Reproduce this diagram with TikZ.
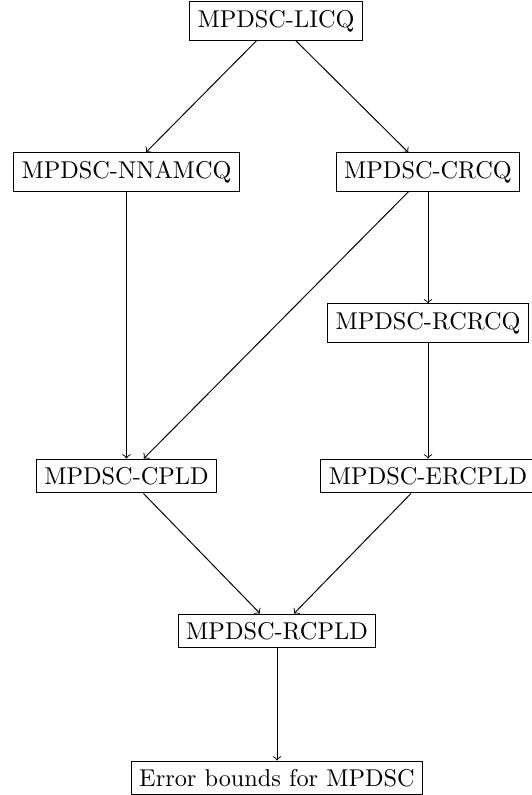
\documentclass[tikz,border=0pt]{standalone}
\begin{document}
\begin{tikzpicture}[x=0.4115pt,y=-0.4115pt,
  box/.style={draw,rectangle,inner sep=3.333pt,font=\normalsize},
  arr/.style={->}]
\useasboundingbox (0,0) rectangle (531,795);
\node[box] (licq) at (276,21) {MPDSC-LICQ};
\node[box] (nnamcq) at (126.5,172) {MPDSC-NNAMCQ};
\node[box] (crcq) at (428,172) {MPDSC-CRCQ};
\node[box] (rcrcq) at (428,323) {MPDSC-RCRCQ};
\node[box] (cpld) at (126.5,476) {MPDSC-CPLD};
\node[box] (ercpld) at (428,476) {MPDSC-ERCPLD};
\node[box] (rcpld) at (277,631) {MPDSC-RCPLD};
\node[box] (err) at (277,778) {Error bounds for MPDSC};
\draw[arr] (licq) -- (nnamcq);
\draw[arr] (licq) -- (crcq);
\draw[arr] (nnamcq) -- (cpld);
\draw[arr] (crcq) -- (cpld);
\draw[arr] (crcq) -- (rcrcq);
\draw[arr] (rcrcq) -- (ercpld);
\draw[arr] (cpld) -- (rcpld);
\draw[arr] (ercpld) -- (rcpld);
\draw[arr] (rcpld) -- (err);
\end{tikzpicture}
\end{document}
